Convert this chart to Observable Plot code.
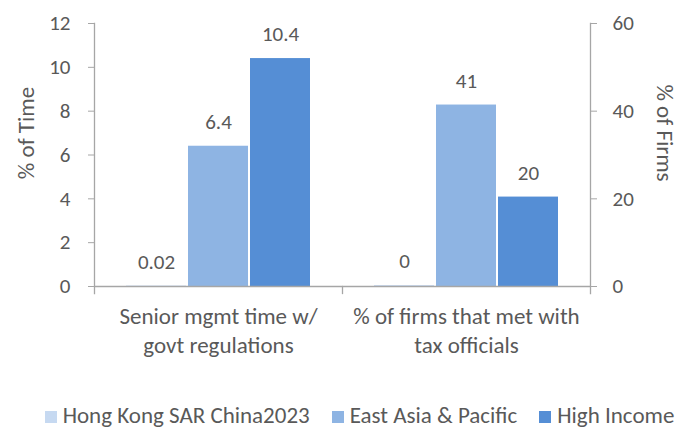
<!DOCTYPE html>
<html>
<head>
<meta charset="utf-8">
<script src="https://cdn.jsdelivr.net/npm/d3@7"></script>
<script src="https://cdn.jsdelivr.net/npm/@observablehq/plot@0.6"></script>
<style>
  body { margin: 0; background: #fff; font-family: Carlito, Calibri, Lato, sans-serif; }
  #chart svg { display: block; }
  #legend { display: flex; justify-content: center; gap: 22px; font-size: 23px; color: #595959; padding-left: 36px; height: 34px; align-items: center; margin-top: 5px; }
  #legend span.sw { display: inline-block; width: 12px; height: 12px; margin-right: 6px; }
</style>
</head>
<body>
<div id="chart"></div>
<div id="legend"></div>
<script>
const categories = ["Senior mgmt time w/ govt regulations", "% of firms that met with tax officials"];
const categoryLabels = ["Senior mgmt time w/\ngovt regulations", "% of firms that met with\ntax officials"];
const series = ["Hong Kong SAR China2023", "East Asia & Pacific", "High Income"];
const colors = ["#C6D9F1", "#8EB4E3", "#558ED5"];
// values per series, in category order
const hongKong = [0.02, 0.2];
const eastAsia = [6.4, 41.4];
const highIncome = [10.4, 20.4];
const leftTicks = [0, 2, 4, 6, 8, 10, 12];
const rightTicks = [0, 20, 40, 60];
const rightScale = 5; // right axis max 60 vs left max 12

const seriesValues = [hongKong, eastAsia, highIncome];
const rows = [];
categories.forEach((c, ci) => {
  series.forEach((s, si) => {
    const v = seriesValues[si][ci];
    rows.push({
      cat: c, series: s, value: v,
      y: ci === 0 ? v : v / rightScale,
      label: ci === 0 ? String(v) : String(Math.round(v))
    });
  });
});

const gray = "#595959";
const axisGray = "#a6a6a6";
const font = "Carlito, Calibri, Lato, sans-serif";

const chart = Plot.plot({
  width: 683,
  height: 393,
  marginTop: 23,
  marginBottom: 107,
  marginLeft: 93,
  marginRight: 93,
  style: { fontFamily: font, fontSize: "21px", color: gray, background: "#fff" },
  fx: { domain: categories, padding: 0 },
  x: { domain: series, paddingInner: 0.03, paddingOuter: 0.5, axis: null },
  y: { domain: [0, 12] },
  color: { domain: series, range: colors },
  marks: [
    Plot.barY(rows, { fx: "cat", x: "series", y: "y", fill: "series" }),
    Plot.text(rows, { fx: "cat", x: "series", y: "y", text: "label", dy: -24, fontSize: 21, fill: gray }),
    Plot.ruleY([0], { stroke: axisGray, strokeWidth: 1.3 }),
    Plot.frame({ anchor: "left", fx: () => categories[0], stroke: axisGray, strokeWidth: 1.3, insetBottom: -7 }),
    Plot.frame({ anchor: "right", fx: () => categories[1], stroke: axisGray, strokeWidth: 1.3, insetBottom: -7 }),
    Plot.frame({ anchor: "left", fx: () => categories[1], stroke: axisGray, strokeWidth: 1.3, insetTop: 263, insetBottom: -7 }),
    Plot.axisY({ anchor: "left", ticks: leftTicks, tickSize: 6, tickPadding: 18, stroke: axisGray, fill: gray, fontSize: 21,
      label: null }),
    Plot.text(["% of Time"], { fx: () => categories[0], frameAnchor: "left", textAnchor: "middle", rotate: -90, dx: -68, dy: -22, fontSize: 23, fill: gray }),
    Plot.axisY({ anchor: "right", ticks: rightTicks.map(t => t / rightScale), tickFormat: d => String(Math.round(d * rightScale)),
      tickSize: 6, tickPadding: 16, stroke: axisGray, fill: gray, fontSize: 21, label: null }),
    Plot.text(["% of Firms"], { fx: () => categories[1], frameAnchor: "right", textAnchor: "middle", rotate: 90, dx: 74, dy: -22, fontSize: 23, fill: gray }),
    Plot.axisFx({ anchor: "bottom", tickSize: 0, tickPadding: 17, lineAnchor: "top", lineHeight: 1.25,
      tickFormat: d => categoryLabels[categories.indexOf(d)], fontSize: 23, fill: gray, label: null })
  ]
});
document.getElementById("chart").appendChild(chart);

const legend = document.getElementById("legend");
series.forEach((s, i) => {
  const item = document.createElement("div");
  item.innerHTML = `<span class="sw" style="background:${colors[i]}"></span>${s}`;
  legend.appendChild(item);
});
</script>
</body>
</html>
